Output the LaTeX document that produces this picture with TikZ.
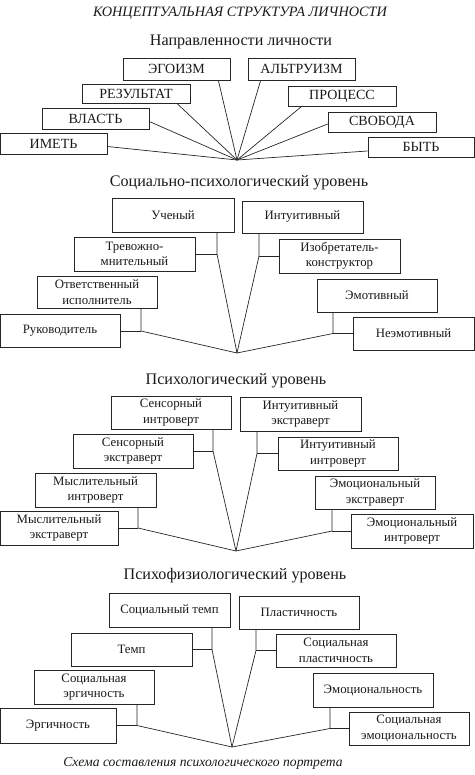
\documentclass[tikz,border=0pt]{standalone}
\usepackage{fontspec}
\setmainfont{Liberation Serif}
\usetikzlibrary{calc}

\tikzset{
  box/.style={draw=black!85, line width=0.7pt, align=center, inner sep=1pt,
    text=black!90, font=\fontsize{12.8}{15.5}\selectfont},
  capbox/.style={box, font=\fontsize{14}{15}\selectfont},
  head/.style={text=black!90, font=\fontsize{16.1}{17}\selectfont},
  link/.style={draw=black!85, line width=0.7pt},
}

\begin{document}
\begin{tikzpicture}[x=1pt,y=1pt,yscale=-1]
\useasboundingbox (0,0) rectangle (474,775);

% titles
\node[head, font=\fontsize{14.3}{15}\selectfont\itshape] (title) at (240,13) {КОНЦЕПТУАЛЬНАЯ СТРУКТУРА ЛИЧНОСТИ};
\node[head] (napr) at (241,42) {Направленности личности};

% direction boxes
\node[capbox, minimum width=107pt, minimum height=22pt] (ego) at (176.5,69) {ЭГОИЗМ};
\node[capbox, minimum width=107pt, minimum height=22pt] (alt) at (301.5,69) {АЛЬТРУИЗМ};
\node[capbox, minimum width=108pt, minimum height=19pt] (rez) at (136,94) {РЕЗУЛЬТАТ};
\node[capbox, minimum width=108pt, minimum height=20pt] (proc) at (342,96) {ПРОЦЕСС};
\node[capbox, minimum width=107pt, minimum height=21pt] (vlast) at (95.5,118.5) {ВЛАСТЬ};
\node[capbox, minimum width=108pt, minimum height=20pt] (svob) at (382,122) {СВОБОДА};
\node[capbox, minimum width=107pt, minimum height=21pt] (imet) at (53.5,143.5) {ИМЕТЬ};
\node[capbox, minimum width=106pt, minimum height=20pt] (byt) at (421,147) {БЫТЬ};
\coordinate (hubA) at (237,160);

\draw[link] ([xshift=-12pt]ego.south east) -- (hubA);
\draw[link] ([xshift=13pt]alt.south west) -- (hubA);
\draw[link] ([xshift=-13pt]rez.south east) -- (hubA);
\draw[link] ([xshift=14pt]proc.south west) -- (hubA);
\draw[link] ([yshift=3pt]vlast.east) -- (hubA);
\draw[link] ([yshift=2pt]svob.west) -- (hubA);
\draw[link] ([yshift=3pt]imet.east) -- (hubA);
\draw[link] ([yshift=4pt]byt.west) -- (hubA);

% socio-psychological level
\node[head] (socl) at (239,183) {Социально-психологический уровень};
\node[box, minimum width=122pt, minimum height=34pt] (uch) at (173,215) {Ученый};
\node[box, minimum width=121pt, minimum height=32pt] (intu) at (302.5,217) {Интуитивный};
\node[box, minimum width=121pt, minimum height=34pt] (trev) at (134.5,254) {Тревожно-\\мнительный};
\node[box, minimum width=121pt, minimum height=34pt] (izob) at (339.5,256) {Изобретатель-\\конструктор};
\node[box, minimum width=120pt, minimum height=32pt] (otv) at (97,292) {Ответственный\\исполнитель};
\node[box, minimum width=120pt, minimum height=33pt] (emot) at (377,295.5) {Эмотивный};
\node[box, minimum width=120pt, minimum height=33pt] (ruk) at (60,330.5) {Руководитель};
\node[box, minimum width=121pt, minimum height=33pt] (neem) at (413.5,333.5) {Неэмотивный};
\coordinate (hubB) at (237,353);
\coordinate (jB1) at (217,254);
\coordinate (jB2) at (259,256);
\coordinate (jB3) at (141,331);
\coordinate (jB4) at (333,333.5);

\draw[link] (uch.south -| jB1) -- (jB1) -- (hubB);
\draw[link] (trev.east) -- (jB1);
\draw[link] (intu.south -| jB2) -- (jB2) -- (hubB);
\draw[link] (izob.west) -- (jB2);
\draw[link] (otv.south -| jB3) -- (jB3) -- (hubB);
\draw[link] (ruk.east |- jB3) -- (jB3);
\draw[link] (emot.south -| jB4) -- (jB4) -- (hubB);
\draw[link] (neem.west) -- (jB4);

% psychological level
\node[head] (psyl) at (236,381) {Психологический уровень};
\node[box, minimum width=120pt, minimum height=33pt] (sensi) at (171,412.5) {Сенсорный\\интроверт};
\node[box, minimum width=121pt, minimum height=34pt] (intue) at (300.5,414) {Интуитивный\\экстраверт};
\node[box, minimum width=120pt, minimum height=34pt] (sense) at (133,451) {Сенсорный\\экстраверт};
\node[box, minimum width=120pt, minimum height=33pt] (intui) at (338,453.5) {Интуитивный\\интроверт};
\node[box, minimum width=121pt, minimum height=34pt] (mysi) at (95.5,490) {Мыслительный\\интроверт};
\node[box, minimum width=120pt, minimum height=33pt] (emoe) at (375,492.5) {Эмоциональный\\экстраверт};
\node[box, minimum width=118pt, minimum height=34pt] (myse) at (59,528) {Мыслительный\\экстраверт};
\node[box, minimum width=122pt, minimum height=34pt] (emoi) at (412,531) {Эмоциональный\\интроверт};
\coordinate (hubC) at (236,551);
\coordinate (jC1) at (213,451);
\coordinate (jC2) at (257,453.5);
\coordinate (jC3) at (138,528);
\coordinate (jC4) at (332,531);

\draw[link] (sensi.south -| jC1) -- (jC1) -- (hubC);
\draw[link] (sense.east) -- (jC1);
\draw[link] (intue.south -| jC2) -- (jC2) -- (hubC);
\draw[link] (intui.west) -- (jC2);
\draw[link] (mysi.south -| jC3) -- (jC3) -- (hubC);
\draw[link] (myse.east) -- (jC3);
\draw[link] (emoe.south -| jC4) -- (jC4) -- (hubC);
\draw[link] (emoi.west) -- (jC4);

% psychophysiological level
\node[head] (fizl) at (235,576) {Психофизиологический уровень};
\node[box, minimum width=121pt, minimum height=34pt] (soct) at (169.5,610) {Социальный темп};
\node[box, minimum width=120pt, minimum height=33pt] (plast) at (299,612.5) {Пластичность};
\node[box, minimum width=121pt, minimum height=33pt] (temp) at (131.5,649.5) {Темп};
\node[box, minimum width=120pt, minimum height=33pt] (socpl) at (336,650.5) {Социальная\\пластичность};
\node[box, minimum width=120pt, minimum height=34pt] (socerg) at (94,687) {Социальная\\эргичность};
\node[box, minimum width=120pt, minimum height=34pt] (emoc) at (373,690) {Эмоциональность};
\node[box, minimum width=116pt, minimum height=35pt] (erg) at (58,725.5) {Эргичность};
\node[box, minimum width=120pt, minimum height=33pt] (socemo) at (409,728.5) {Социальная\\эмоциональность};
\coordinate (hubD) at (232,747);
\coordinate (jD1) at (212,649.5);
\coordinate (jD2) at (256,650.5);
\coordinate (jD3) at (137,725.5);
\coordinate (jD4) at (330,728.5);

\draw[link] (soct.south -| jD1) -- (jD1) -- (hubD);
\draw[link] (temp.east) -- (jD1);
\draw[link] (plast.south -| jD2) -- (jD2) -- (hubD);
\draw[link] (socpl.west) -- (jD2);
\draw[link] (socerg.south -| jD3) -- (jD3) -- (hubD);
\draw[link] (erg.east) -- (jD3);
\draw[link] (emoc.south -| jD4) -- (jD4) -- (hubD);
\draw[link] (socemo.west) -- (jD4);

\node[head, font=\fontsize{13.6}{14}\selectfont\itshape] (capt) at (203,763) {Схема составления психологического портрета};
\end{tikzpicture}
\end{document}
